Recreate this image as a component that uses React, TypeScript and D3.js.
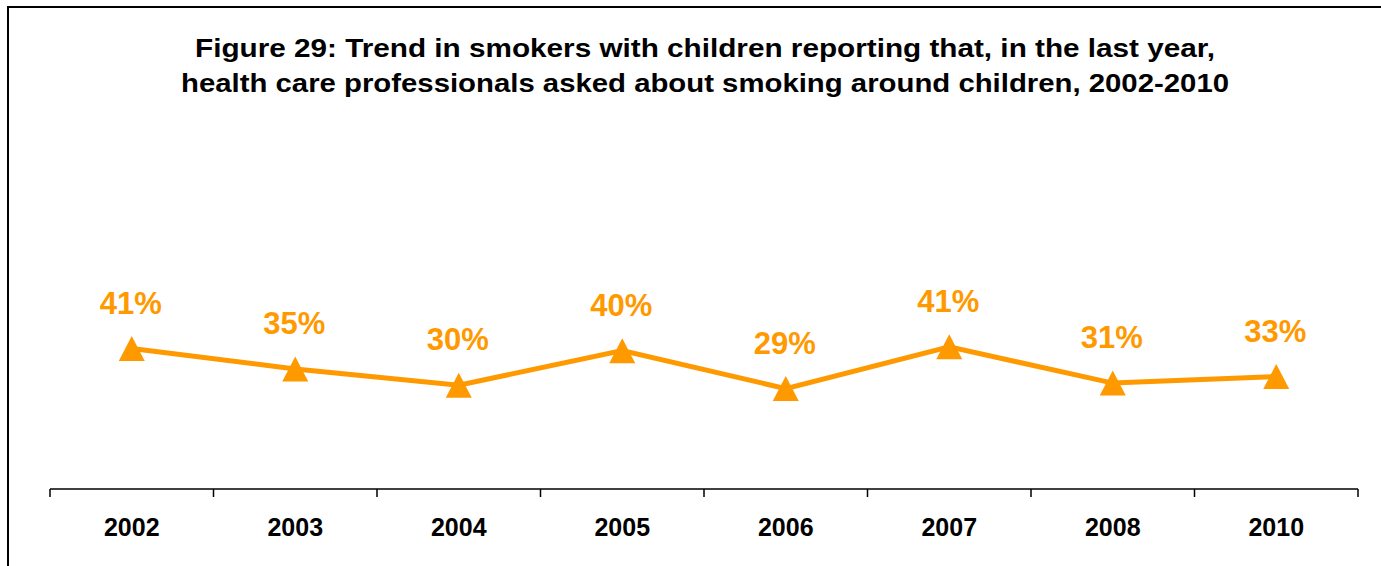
import React from "react";
import * as d3 from "d3";

const years = ["2002", "2003", "2004", "2005", "2006", "2007", "2008", "2010"];
const values = [40.7, 34.8, 30.1, 40.1, 29.1, 41.2, 30.7, 32.6];
const titleLines = [
  "Figure 29: Trend in smokers with children reporting that, in the last year,",
  "health care professionals asked about smoking around children, 2002-2010",
];
const titleWidths = [1020, 1048];

const W = 1381;
const H = 566;
const ORANGE = "#FF9900";
const FONT = "'Liberation Sans', Arial, sans-serif";

export default function App() {
  const x = d3.scaleBand<string>().domain(years).range([50, 1358]).padding(0);
  const y = d3.scaleLinear().domain([0, 100]).range([489, 144]);
  const cx = (d: string) => (x(d) as number) + x.bandwidth() / 2;

  const line = d3
    .line<number>()
    .x((_, i) => cx(years[i]))
    .y((v) => y(v));

  const tickXs = years.map((d) => x(d) as number).concat([x.range()[1]]);
  const tri = "M0,-12.5L13,12.5L-13,12.5Z";

  return (
    <svg
      width={W}
      height={H}
      style={{ position: "absolute", left: 0, top: 0, background: "#fff" }}
    >
      <rect x={8} y={7} width={W + 20} height={H + 20} fill="#fff" stroke="#000" strokeWidth={2} />
      {titleLines.map((t, i) => (
        <text
          key={i}
          x={705}
          y={56.5 + i * 35.5}
          textAnchor="middle"
          fontFamily={FONT}
          fontWeight="bold"
          fontSize={25}
          textLength={titleWidths[i]}
          lengthAdjust="spacingAndGlyphs"
          fill="#000"
        >
          {t}
        </text>
      ))}
      <line x1={50} x2={1358} y1={489} y2={489} stroke="#000" strokeWidth={1.5} />
      {tickXs.map((tx, i) => (
        <line key={i} x1={tx} x2={tx} y1={489} y2={497} stroke="#000" strokeWidth={1.5} />
      ))}
      {years.map((d) => (
        <text
          key={d}
          x={cx(d)}
          y={536}
          textAnchor="middle"
          fontFamily={FONT}
          fontWeight="bold"
          fontSize={25}
          fill="#000"
        >
          {d}
        </text>
      ))}
      <path d={line(values) || ""} fill="none" stroke={ORANGE} strokeWidth={5} strokeLinejoin="miter" />
      {values.map((v, i) => (
        <path key={i} d={tri} transform={`translate(${cx(years[i])},${y(v)})`} fill={ORANGE} />
      ))}
      {values.map((v, i) => (
        <text
          key={i}
          x={cx(years[i]) - 1}
          y={y(v) - 35}
          textAnchor="middle"
          fontFamily={FONT}
          fontWeight="bold"
          fontSize={31}
          fill={ORANGE}
        >
          {Math.round(v)}%
        </text>
      ))}
    </svg>
  );
}
